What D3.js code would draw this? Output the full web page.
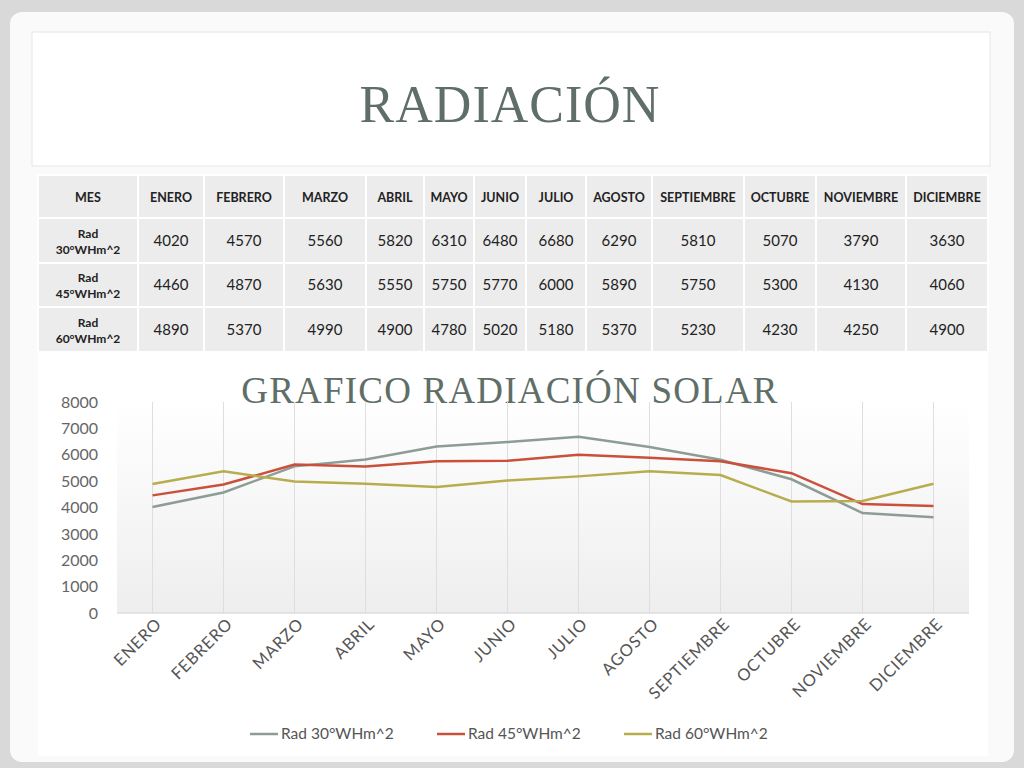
<!DOCTYPE html>
<html><head><meta charset="utf-8">
<script src="https://cdn.jsdelivr.net/npm/d3@7"></script>
<style>body{margin:0;background:#fff}</style></head>
<body><svg id="c" width="1024" height="768"></svg>
<script>
const months=["ENERO","FEBRERO","MARZO","ABRIL","MAYO","JUNIO","JULIO","AGOSTO","SEPTIEMBRE","OCTUBRE","NOVIEMBRE","DICIEMBRE"];
const seriesNames=["Rad 30°WHm^2","Rad 45°WHm^2","Rad 60°WHm^2"];
const rad30=[4020,4570,5560,5820,6310,6480,6680,6290,5810,5070,3790,3630];
const rad45=[4460,4870,5630,5550,5750,5770,6000,5890,5750,5300,4130,4060];
const rad60=[4890,5370,4990,4900,4780,5020,5180,5370,5230,4230,4250,4900];
const yTicks=[0,1000,2000,3000,4000,5000,6000,7000,8000];
const colors=["#8d9d96","#c9503b","#b8ad4e"];
const series=[rad30,rad45,rad60];
const svg=d3.select("#c");
const sans="'Lato','Open Sans',sans-serif";
svg.append("rect").attr("width",1024).attr("height",768).attr("fill","#d9d9d9");
svg.append("rect").attr("x",10).attr("y",12).attr("width",1004).attr("height",750).attr("rx",12).attr("fill","#fafafa");
svg.append("rect").attr("x",32).attr("y",32).attr("width",958).attr("height",134).attr("fill","#fff").attr("stroke","#e6e6e6");
svg.append("rect").attr("x",38).attr("y",352).attr("width",950).attr("height",404).attr("fill","#fff");
svg.append("text").attr("x",510).attr("y",122).attr("text-anchor","middle").attr("font-family","'Liberation Serif',serif").attr("font-size",52).attr("letter-spacing",1).attr("fill","#5f6e67").text("RADIACIÓN");
// table
const colX=[38,138,204,284,366,424,474,526,586,652,744,816,906,988];
const rowY=[175,218,263,307,352];
const rowsData=[["MES",...months],["Rad|30°WHm^2",...rad30],["Rad|45°WHm^2",...rad45],["Rad|60°WHm^2",...rad60]];
rowsData.forEach((row,r)=>{row.forEach((v,c)=>{
 const x0=colX[c],x1=colX[c+1],y0=rowY[r],y1=rowY[r+1];
 svg.append("rect").attr("x",x0).attr("y",y0).attr("width",x1-x0).attr("height",y1-y0).attr("fill","#ececec").attr("stroke","#fff").attr("stroke-width",2);
 const cx=(x0+x1)/2,cy=(y0+y1)/2;
 const bold=(r==0||c==0);
 const s=String(v);
 if(s.includes("|")){const p=s.split("|");
  p.forEach((t,i)=>svg.append("text").attr("x",cx).attr("y",cy-3+i*16).attr("text-anchor","middle").attr("font-family",sans).attr("font-weight","bold").attr("font-size",12).attr("fill","#222").text(t));
 } else svg.append("text").attr("x",cx).attr("y",cy+5).attr("text-anchor","middle").attr("font-family",sans).attr("font-weight",bold?"bold":"normal").attr("font-size",bold?12.5:15).attr("fill","#222").text(s);
});});
// chart
const x=d3.scaleBand().domain(months).range([117,969]);
const y=d3.scaleLinear().domain([0,8000]).range([613,402]);
const defs=svg.append("defs");
const g=defs.append("linearGradient").attr("id","bg").attr("x1",0).attr("y1",0).attr("x2",0).attr("y2",1);
g.append("stop").attr("offset","0").attr("stop-color","#ffffff");
g.append("stop").attr("offset","1").attr("stop-color","#eeeeee");
svg.append("rect").attr("x",117).attr("y",402).attr("width",852).attr("height",211).attr("fill","url(#bg)");
svg.append("text").attr("x",510).attr("y",403).attr("text-anchor","middle").attr("font-family","'Liberation Serif',serif").attr("font-size",37).attr("letter-spacing",1.2).attr("fill","#5f6e67").text("GRAFICO RADIACIÓN SOLAR");
svg.append("g").selectAll("line").data(months).join("line").attr("x1",d=>x(d)+x.bandwidth()/2).attr("x2",d=>x(d)+x.bandwidth()/2).attr("y1",y(0)).attr("y2",y(8000)).attr("stroke","#dedede");
svg.append("line").attr("x1",117).attr("x2",969).attr("y1",y(0)).attr("y2",y(0)).attr("stroke","#d0d0d0");
const ya=svg.append("g").attr("transform","translate(101,0)").call(d3.axisLeft(y).tickValues(yTicks).tickSize(0).tickFormat(d3.format("d")));
ya.select(".domain").remove();
ya.selectAll("text").attr("font-family",sans).attr("font-size",16).attr("fill","#666");
const xa=svg.append("g").attr("transform",`translate(0,${y(0)})`).call(d3.axisBottom(x).tickSize(0));
xa.select(".domain").remove();
xa.selectAll("text").attr("font-family",sans).attr("font-size",16.5).attr("letter-spacing",0.8).attr("fill","#555").attr("text-anchor","end").attr("dy",0).attr("transform","translate(8,10) rotate(-45)");
const line=d3.line().x((d,i)=>x(months[i])+x.bandwidth()/2).y(d=>y(d));
series.forEach((s,i)=>svg.append("path").datum(s).attr("d",line).attr("fill","none").attr("stroke",colors[i]).attr("stroke-width",2.5));
// legend
const lx=[250,437,624];
seriesNames.forEach((n,i)=>{
 svg.append("line").attr("x1",lx[i]).attr("x2",lx[i]+28).attr("y1",734).attr("y2",734).attr("stroke",colors[i]).attr("stroke-width",2.5);
 svg.append("text").attr("x",lx[i]+31).attr("y",739).attr("font-family",sans).attr("font-size",15.5).attr("fill","#555").text(n);
});
</script></body></html>
